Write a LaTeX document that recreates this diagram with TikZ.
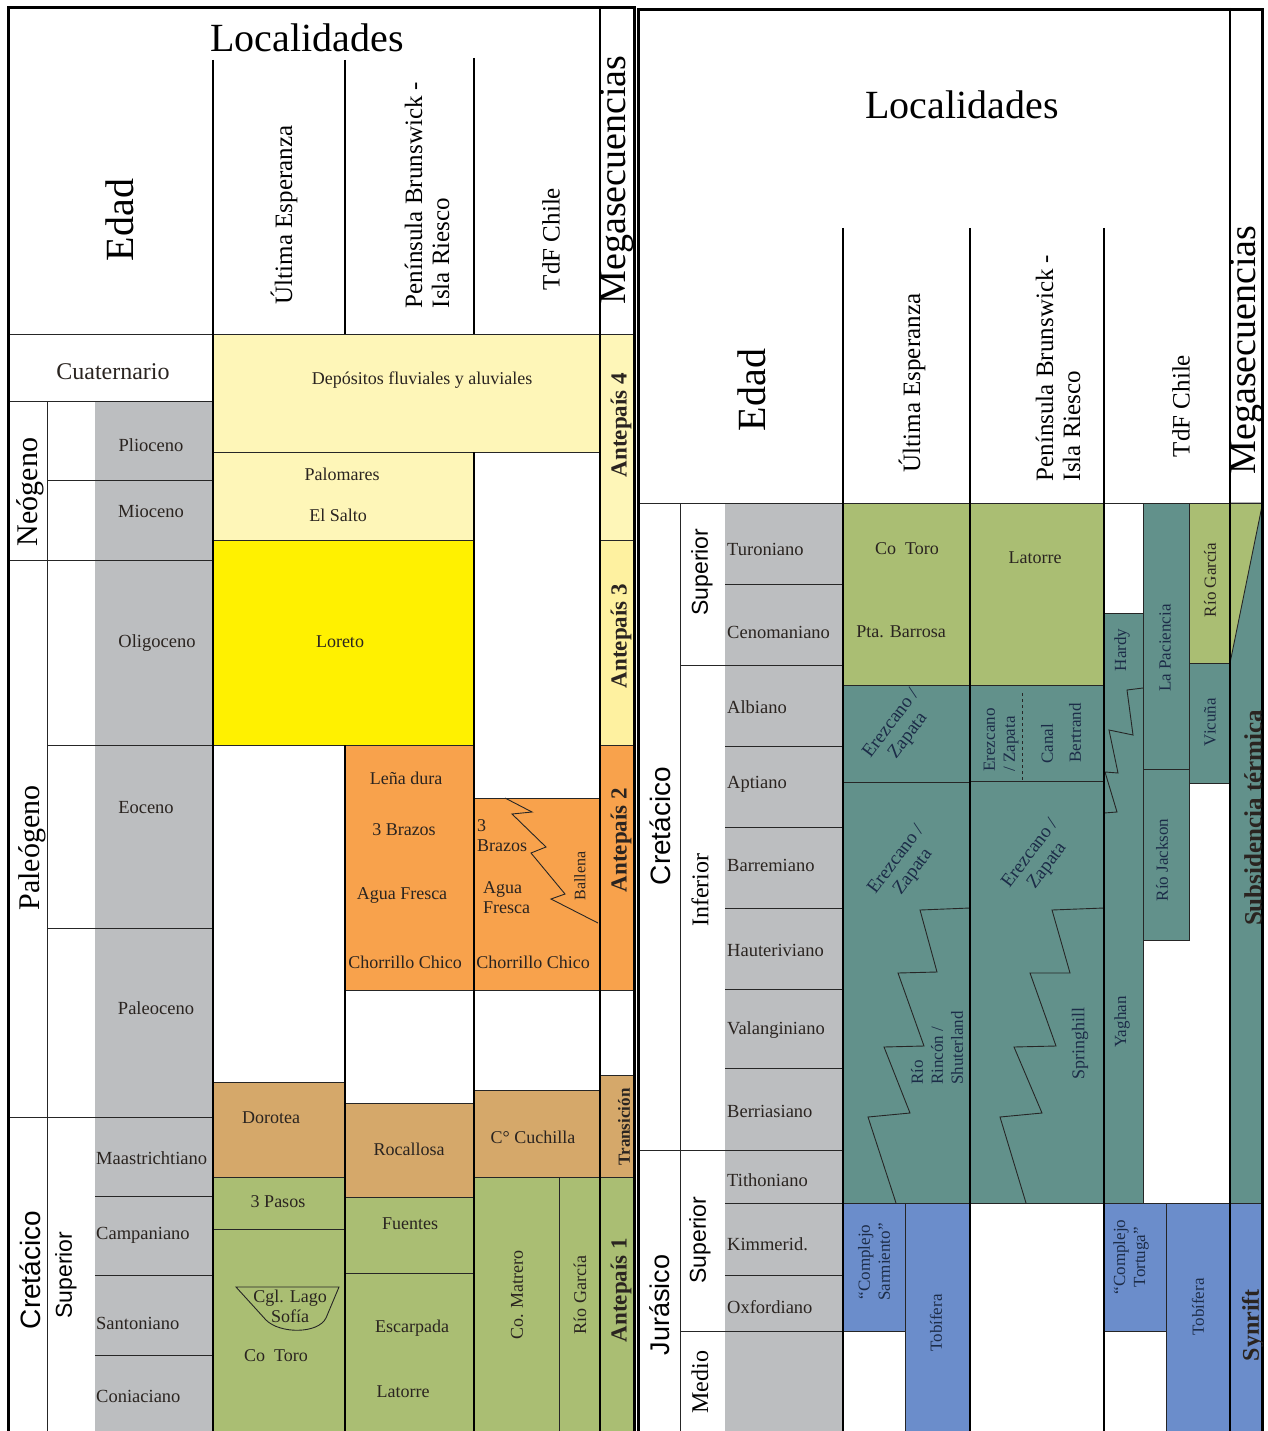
\documentclass[tikz,border=0pt]{standalone}
\usepackage{fontspec}
\setmainfont{Liberation Serif}
\setsansfont{Liberation Sans}
\usetikzlibrary{positioning, calc}

\definecolor{agegray}{HTML}{BCBEC0}
\definecolor{paleyel}{HTML}{FEF6B8}
\definecolor{softyel}{HTML}{FEF1A0}
\definecolor{brightyel}{HTML}{FFF100}
\definecolor{orangeu}{HTML}{F8A24C}
\definecolor{tanu}{HTML}{D5A86A}
\definecolor{greenu}{HTML}{AABE73}
\definecolor{tealu}{HTML}{62918B}
\definecolor{blueu}{HTML}{6B8DCB}
\definecolor{navytext}{HTML}{1C2C48}
\definecolor{inktext}{HTML}{2A2420}

\begin{document}
\begin{tikzpicture}[
    x=1pt, y=-1pt,
    % Styling
    title text/.style={font=\fontsize{40}{44}\selectfont},
    head text/.style={font=\fontsize{25}{27}\selectfont, rotate=90, align=left, inner sep=0pt},
    mega text/.style={font=\fontsize{38}{40}\selectfont, rotate=90, inner sep=0pt},
    period text/.style={font=\fontsize{30}{32}\selectfont, rotate=90, inner sep=0pt},
    period sans/.style={font=\sffamily\fontsize{28}{30}\selectfont, rotate=90, inner sep=0pt},
    epoch sans/.style={font=\sffamily\fontsize{23}{25}\selectfont, rotate=90, inner sep=0pt},
    epoch text/.style={font=\fontsize{24}{26}\selectfont, rotate=90, inner sep=0pt},
    age text/.style={font=\fontsize{18.5}{20}\selectfont, text=inktext, inner sep=0pt},
    unit text/.style={font=\fontsize{18}{20}\selectfont, text=inktext, inner sep=0pt, align=center},
    deep text/.style={font=\fontsize{17}{20}\selectfont, text=navytext, inner sep=0pt, align=center},
    slant text/.style={deep text, font=\fontsize{19}{21}\selectfont, rotate=53},
    seq text/.style={font=\bfseries\fontsize{23}{25}\selectfont, rotate=90, text=inktext, inner sep=0pt},
    col line/.style={line width=2.2},
    thin line/.style={line width=0.9, draw=black!85},
    border/.style={line width=3}
]

\useasboundingbox (0,0) rectangle (1267,1431);
\clip (0,0) rectangle (1267,1431);

% --- Fills: age columns ---
\fill[agegray] (95,401) rectangle (213,1445);
\fill[agegray] (725,503) rectangle (843,1445);

% --- Fills: left panel units ---
% Format: x0/y0/x1/y1/colour
\foreach \xa/\ya/\xb/\yb/\col in {
    213/334/600/452/paleyel, 213/452/474/540/paleyel, 213/540/474/745/brightyel,
    345/745/474/990/orangeu, 474/798/600/990/orangeu,
    213/1082/345/1177/tanu, 213/1177/345/1229/greenu, 213/1229/345/1445/greenu,
    345/1103/474/1197/tanu, 345/1197/474/1273/greenu, 345/1273/474/1445/greenu,
    474/1090/600/1177/tanu, 474/1177/559/1445/greenu, 559/1177/600/1445/greenu,
    600/334/634/540/paleyel, 600/540/634/745/softyel, 600/745/634/990/orangeu,
    600/1075/634/1177/tanu, 600/1177/634/1445/greenu} {
    \filldraw[fill=\col, thin line] (\xa,\ya) rectangle (\xb,\yb);
}

% --- Fills: right panel units ---
\foreach \xa/\ya/\xb/\yb/\col in {
    843/503/970/685/greenu, 843/685/970/782/tealu, 843/782/970/1203/tealu,
    843/1203/905/1331/blueu, 905/1203/970/1445/blueu,
    970/503/1104/685/greenu, 970/685/1104/781/tealu, 970/781/1104/1203/tealu,
    1104/613/1143/1203/tealu, 1143/503/1189/769/tealu, 1143/769/1189/940/tealu,
    1189/503/1230/663/greenu, 1189/663/1230/783/tealu,
    1104/1203/1166/1331/blueu, 1166/1203/1230/1445/blueu,
    1230/503/1262/1203/tealu, 1230/1203/1262/1445/blueu} {
    \filldraw[fill=\col, thin line] (\xa,\ya) rectangle (\xb,\yb);
}
\filldraw[fill=greenu, thin line] (1230,503) -- (1262,503) -- (1262,506) -- (1230,663) -- cycle;

% --- Age grid lines ---
\draw[thin line] (8,334) -- (634,334);
\draw[thin line] (638,503) -- (1262,503);
\draw[thin line] (47,401) -- (47,1445);
\draw[thin line] (680,503) -- (680,1445);
\foreach \xa/\y in {8/401, 8/560, 8/1117, 47/480, 47/745, 47/928, 95/1196, 95/1275, 95/1355}
    \draw[thin line] (\xa,\y) -- (213,\y);
\foreach \xa/\y in {725/584, 680/665, 725/746, 725/827, 725/908, 725/989, 725/1068,
                    638/1150, 725/1203, 725/1275, 680/1331}
    \draw[thin line] (\xa,\y) -- (843,\y);

% --- Interfingering contacts ---
\draw[thin line] (970,908) -- (920,910) -- (937,972) -- (898,973) -- (924,1046)
    -- (884,1047) -- (910,1113) -- (868,1117) -- (896,1203);
\draw[thin line] (1104,908) -- (1052,910) -- (1070,973) -- (1030,973) -- (1056,1046)
    -- (1014,1047) -- (1042,1113) -- (1000,1117) -- (1026,1203);
\draw[thin line] (1143,688) -- (1127,690) -- (1133,735) -- (1109,730) -- (1118,773)
    -- (1105,772) -- (1117,812) -- (1104,813);
\draw[thin line] (505,798) -- (532,812) -- (512,814) -- (546,847) -- (531,853)
    -- (565,894) -- (551,899) -- (598,923);
\draw[thin line, dashed] (1022,693) -- (1022,780);
\draw[thin line] (236,1287) -- (339,1287) -- (326,1318)
    .. controls (318,1334) and (280,1334) .. (266,1320) -- cycle;

% --- Column separators and frames ---
\foreach \xa/\ya/\yb in {213/60/1445, 345/60/334, 345/745/1445, 474/58/334, 474/452/1445,
                        600/8/1445, 843/228/1445, 970/228/1445, 1104/228/1445, 1230/8/1445}
    \draw[col line] (\xa,\ya) -- (\xa,\yb);
\draw[border] (8,8) rectangle (634,1445);
\draw[border] (638,10) rectangle (1262,1445);

% --- Headers ---
\node[title text] (loc-l) at (307,38) {Localidades};
\node[title text] (loc-r) at (962,105) {Localidades};
\node[title text, rotate=90] (edad-l) at (120,220) {Edad};
\node[title text, rotate=90] (edad-r) at (752,390) {Edad};
\node[head text] (ue-l) at (284,215) {Última Esperanza};
\node[head text] (pb-l) at (427,195) {Península Brunswick -\\Isla Riesco};
\node[head text] (tdf-l) at (551,239) {TdF Chile};
\node[head text] (ue-r) at (912,383) {Última Esperanza};
\node[head text] (pb-r) at (1058,368) {Península Brunswick -\\Isla Riesco};
\node[head text] (tdf-r) at (1181,406) {TdF Chile};
\node[mega text] (mega-l) at (617,180) {Megasecuencias};
\begin{scope}
    \clip (1230,8) rectangle (1262,1431);
    \node[mega text] (mega-r) at (1247,350) {Megasecuencias};
    \node[seq text, font=\bfseries\fontsize{25}{27}\selectfont] (subs) at (1253,818) {Subsidencia térmica};
    \node[seq text, font=\bfseries\fontsize{24}{26}\selectfont] (synrift) at (1253,1325) {Synrift};
\end{scope}

% --- Left panel: ages ---
\node[age text, font=\fontsize{24}{26}\selectfont] (cuat) at (113,372) {Cuaternario};
\node[period text] (neog) at (30,492) {Neógeno};
\node[period text] (paleog) at (32,848) {Paleógeno};
\node[period sans] (cret-l) at (30,1270) {Cretácico};
\node[epoch sans] (sup-l) at (66,1275) {Superior};
\foreach \name/\xc/\yc/\id in {Plioceno/151/445/1, Mioceno/151/511/2, Oligoceno/157/643/3,
                               Eoceno/146/808/4, Paleoceno/156/1008/5}
    \node[age text] (lage-\id) at (\xc,\yc) {\name};
\foreach \name/\yc/\id in {Maastrichtiano/1158/6, Campaniano/1235/7, Santoniano/1323/8, Coniaciano/1396/9}
    \node[age text, anchor=west] (lage-\id) at (96,\yc) {\name};

% --- Right panel: ages ---
\node[period sans] (cret-r) at (660,826) {Cretácico};
\node[period sans, font=\sffamily\fontsize{27}{29}\selectfont] (jur) at (660,1305) {Jurásico};
\node[epoch sans] (sup-r1) at (702,572) {Superior};
\node[epoch text] (inf) at (700,890) {Inferior};
\node[epoch sans] (sup-r2) at (700,1240) {Superior};
\node[epoch text] (medio) at (700,1382) {Medio};
\foreach \name/\yc/\id in {Turoniano/549/1, Cenomaniano/632/2, Albiano/707/3, Aptiano/784/4,
                           Barremiano/865/5, Hauteriviano/950/6, Valanginiano/1030/7,
                           Berriasiano/1111/8, Tithoniano/1180/9, Kimmerid./1244/10, Oxfordiano/1307/11}
    \node[age text, anchor=west] (rage-\id) at (727,\yc) {\name};

% --- Left panel: units ---
\node[unit text] (depos) at (422,380) {Depósitos fluviales y aluviales};
\node[unit text] (palom) at (342,474) {Palomares};
\node[unit text] (salto) at (338,515) {El Salto};
\node[unit text] (loreto) at (340,642) {Loreto};
\node[unit text] (lena) at (406,778) {Leña dura};
\node[unit text] (brazos-b) at (404,830) {3 Brazos};
\node[unit text] (agua-b) at (402,895) {Agua Fresca};
\node[unit text] (chorr-b) at (405,962) {Chorrillo Chico};
\node[unit text, anchor=west, align=left] (brazos-c) at (477,836) {3\\Brazos};
\node[unit text, anchor=west, align=left] (agua-c) at (483,898) {Agua\\Fresca};
\node[unit text, font=\fontsize{16}{18}\selectfont, rotate=90] (ballena) at (580,876) {Ballena};
\node[unit text] (chorr-c) at (533,962) {Chorrillo Chico};
\node[unit text] (dorotea) at (271,1118) {Dorotea};
\node[unit text] (pasos) at (278,1202) {3 Pasos};
\node[unit text] (lago) at (290,1306) {Cgl. Lago\\Sofía};
\node[unit text] (cotoro-l) at (276,1356) {Co\ \ Toro};
\node[unit text] (rocal) at (409,1149) {Rocallosa};
\node[unit text] (fuentes) at (410,1224) {Fuentes};
\node[unit text] (escarp) at (412,1328) {Escarpada};
\node[unit text] (latorre-l) at (403,1392) {Latorre};
\node[unit text] (cuchilla) at (533,1137) {C° Cuchilla};
\node[unit text, rotate=90] (matrero) at (517,1295) {Co. Matrero};
\node[unit text, rotate=90] (garcia-l) at (580,1295) {Río García};

% --- Left panel: megasequences ---
\node[seq text] (ante4) at (621,425) {Antepaís 4};
\node[seq text] (ante3) at (621,636) {Antepaís 3};
\node[seq text] (ante2) at (621,840) {Antepaís 2};
\node[seq text, font=\bfseries\fontsize{17}{19}\selectfont] (trans) at (624,1127) {Transición};
\node[seq text] (ante1) at (621,1290) {Antepaís 1};

% --- Right panel: units ---
\node[unit text] (cotoro-r) at (907,549) {Co\ \ Toro};
\node[unit text] (barrosa) at (901,632) {Pta. Barrosa};
\node[unit text] (latorre-r) at (1035,558) {Latorre};
\node[slant text] (erez-a1) at (900,730) {Erezcano /\\Zapata};
\node[slant text] (erez-a2) at (905,866) {Erezcano /\\Zapata};
\node[slant text] (erez-b2) at (1039,860) {Erezcano /\\Zapata};
\node[deep text, rotate=90, align=left] (erez-b1) at (1001,740) {Erezcano\\/ Zapata};
\node[deep text, rotate=90] (canal) at (1047,744) {Canal};
\node[deep text, rotate=90] (bertrand) at (1075,733) {Bertrand};
\node[deep text, rotate=90, align=left] (rincon) at (937,1048) {Río\\Rincón /\\Shuterland};
\node[deep text, rotate=90, font=\fontsize{18}{20}\selectfont] (spring) at (1080,1043) {Springhill};
\node[deep text, rotate=90] (hardy) at (1122,650) {Hardy};
\node[deep text, rotate=90] (yaghan) at (1122,1022) {Yaghan};
\node[deep text, rotate=90] (pacien) at (1165,648) {La Paciencia};
\node[deep text, rotate=90] (jackson) at (1162,860) {Río Jackson};
\node[unit text, font=\fontsize{17}{19}\selectfont, rotate=90] (garcia-r) at (1210,580) {Río García};
\node[deep text, rotate=90] (vicuna) at (1210,722) {Vicuña};
\node[deep text, rotate=90] (sarm) at (874,1262) {“Complejo\\Sarmiento”};
\node[deep text, rotate=90] (tobi-a) at (936,1323) {Tobífera};
\node[deep text, rotate=90] (tort) at (1131,1257) {“Complejo\\Tortuga”};
\node[deep text, rotate=90] (tobi-c) at (1198,1307) {Tobífera};

\end{tikzpicture}
\end{document}
